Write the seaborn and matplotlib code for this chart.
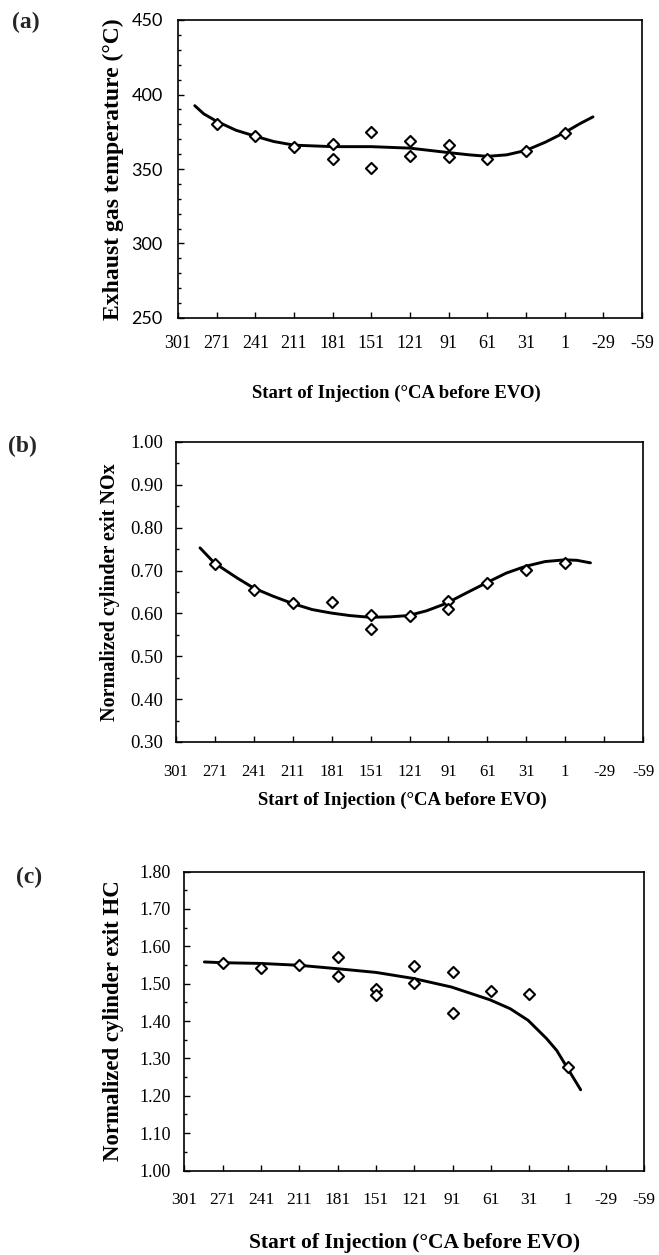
import numpy as np
import pandas as pd
import matplotlib
matplotlib.use("Agg")
import matplotlib.pyplot as plt
from matplotlib.ticker import MultipleLocator, FormatStrFormatter
import seaborn as sns

sns.set_theme(style="ticks")
plt.rcParams["font.family"] = ["Liberation Serif", "DejaVu Serif"]

# ---- shared x axis: start of injection, degrees CA before EVO ----
soi_ticks = [301, 271, 241, 211, 181, 151, 121, 91, 61, 31, 1, -29, -59]

# ---- (a) exhaust gas temperature ----
soi_a = [271, 241, 211, 181, 181, 151, 151, 121, 121, 91, 91, 61, 31, 1]
temp_a = [380, 372, 365, 367, 357, 375, 351, 369, 359, 366, 358, 357, 362, 374]
fit_a_x = [288, 281, 271, 256, 241, 227, 211, 181, 151, 121, 91, 75, 61, 46, 31, 16, 1, -11, -21]
fit_a_y = [392.5, 387, 382, 376, 372, 368.5, 366, 365, 365, 364, 361, 359.5, 358.5, 359.5,
           362.5, 368, 374.5, 380.5, 385]

# ---- (b) normalized cylinder exit NOx ----
soi_b = [271, 241, 211, 181, 151, 151, 121, 91, 91, 61, 31, 1]
nox_b = [0.716, 0.655, 0.624, 0.627, 0.596, 0.564, 0.593, 0.630, 0.611, 0.672, 0.702, 0.718]
fit_b_x = [282.5, 271.5, 254, 241, 226, 211, 196, 181.5, 167, 151.5, 136, 122, 108, 93,
           77, 62, 46.5, 31.5, 16.5, 1.5, -8, -18.5]
fit_b_y = [0.753, 0.718, 0.683, 0.659, 0.640, 0.623, 0.609, 0.601, 0.595, 0.591, 0.592,
           0.595, 0.606, 0.623, 0.648, 0.671, 0.694, 0.710, 0.721, 0.725, 0.724, 0.718]

# ---- (c) normalized cylinder exit HC ----
soi_c = [271, 241, 211, 181, 181, 151, 151, 121, 121, 91, 91, 61, 31, 1]
hc_c = [1.554, 1.543, 1.551, 1.570, 1.520, 1.485, 1.469, 1.547, 1.503, 1.531, 1.422,
        1.480, 1.473, 1.277]
fit_c_x = [285.3, 271.3, 241, 211, 181.5, 151, 122, 92, 62, 46, 32, 17.5, 9.5, 1.7, -9.2]
fit_c_y = [1.558, 1.556, 1.554, 1.549, 1.540, 1.530, 1.514, 1.491, 1.457, 1.433, 1.402,
           1.353, 1.321, 1.277, 1.216]

W, H = 659, 1255
fig = plt.figure(figsize=(W / 100, H / 100), dpi=100)
fig.patch.set_facecolor("white")


def box(left, top, right, bottom):
    return [left / W, 1 - bottom / H, (right - left) / W, (bottom - top) / H]


panels = [
    dict(rect=box(178, 20, 642, 318), letter="(a)", lpos=(12, 22), lsize=17,
         x=soi_a, y=temp_a, fx=fit_a_x, fy=fit_a_y,
         ylim=(250, 450), major=50, minor=10, fmt="%d",
         ylabel="Exhaust gas temperature (\u00b0C)", ylsize=17, ylx=-0.140,
         ytick_family=["Lato", "DejaVu Sans"], ytsize=13, xtsize=13,
         xpad=12.5, ypad=11, xlsize=13.5, xlx=0.47, xly=-0.252),
    dict(rect=box(176, 442, 643, 742), letter="(b)", lpos=(8, 446), lsize=17,
         x=soi_b, y=nox_b, fx=fit_b_x, fy=fit_b_y,
         ylim=(0.30, 1.00), major=0.10, minor=0.05, fmt="%.2f",
         ylabel="Normalized cylinder exit NOx", ylsize=14.5, ylx=-0.141,
         ytick_family=["Liberation Serif"], ytsize=13.5, xtsize=12,
         xpad=16, ypad=9.5, xlsize=13.5, xlx=0.484, xly=-0.193),
    dict(rect=box(184.3, 871.5, 644.3, 1170.5), letter="(c)", lpos=(16, 877), lsize=17,
         x=soi_c, y=hc_c, fx=fit_c_x, fy=fit_c_y,
         ylim=(1.00, 1.80), major=0.10, minor=0.05, fmt="%.2f",
         ylabel="Normalized cylinder exit HC", ylsize=16.5, ylx=-0.155,
         ytick_family=["Liberation Serif"], ytsize=13, xtsize=12.5,
         xpad=15.5, ypad=10, xlsize=15.5, xlx=0.5, xly=-0.2425),
]

for p in panels:
    ax = fig.add_axes(p["rect"])
    ax.set_facecolor("white")

    sns.lineplot(x=p["fx"], y=p["fy"], sort=False, estimator=None, color="black",
                 linewidth=2.1, ax=ax, zorder=2)
    sns.scatterplot(x=p["x"], y=p["y"], marker="D", s=32, facecolor="white",
                    edgecolor="black", linewidth=1.5, ax=ax, zorder=3)

    ax.set_xlim(301, -59)
    ax.set_xticks(soi_ticks)
    ax.set_xticklabels([str(t) for t in soi_ticks], fontsize=p["xtsize"],
                       family="Liberation Serif")
    ax.set_ylim(*p["ylim"])
    ax.yaxis.set_major_locator(MultipleLocator(p["major"]))
    ax.yaxis.set_minor_locator(MultipleLocator(p["minor"]))
    ax.yaxis.set_major_formatter(FormatStrFormatter(p["fmt"]))
    for lab in ax.get_yticklabels():
        lab.set_family(p["ytick_family"])
        lab.set_fontsize(p["ytsize"])

    ax.tick_params(axis="both", which="major", direction="in", length=4, width=1,
                   color="black", labelcolor="black")
    ax.tick_params(axis="x", which="major", pad=p["xpad"])
    ax.tick_params(axis="y", which="major", pad=p["ypad"])
    ax.tick_params(axis="y", which="minor", direction="in", length=2.5, width=1,
                   color="black")
    for sp in ax.spines.values():
        sp.set_visible(True)
        sp.set_color("black")
        sp.set_linewidth(1.2)

    ax.set_ylabel(p["ylabel"], fontsize=p["ylsize"], fontweight="bold",
                  family="Liberation Serif", color="black")
    ax.yaxis.set_label_coords(p["ylx"], 0.5)
    ax.yaxis.label.set_va("center")
    ax.set_xlabel("Start of Injection (\u00b0CA before EVO)", fontsize=p["xlsize"],
                  fontweight="bold", family="Liberation Serif", color="black")
    ax.xaxis.set_label_coords(p["xlx"], p["xly"])
    ax.xaxis.label.set_va("center")

    fig.text(p["lpos"][0] / W, 1 - p["lpos"][1] / H, p["letter"], fontsize=p["lsize"],
             fontweight="bold", family="Liberation Serif", va="center", ha="left")

fig.savefig("out.png", dpi=100, facecolor="white")
